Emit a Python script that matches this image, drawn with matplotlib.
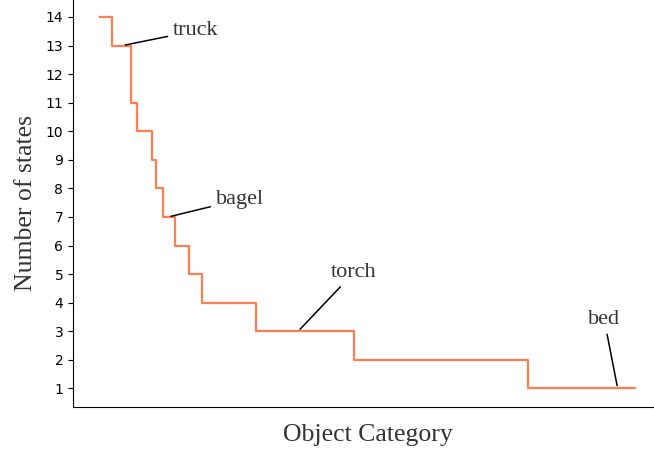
import numpy as np
import matplotlib
matplotlib.use("Agg")
import matplotlib.pyplot as plt

# Number of states per object category, sorted in descending order
state_levels = [14, 13, 11, 10, 9, 8, 7, 6, 5, 4, 3, 2, 1]
categories_per_level = [7, 11, 3, 9, 2, 4, 7, 8, 7, 31, 56, 99, 62]

# Highlighted categories: index along the sorted axis and label placement
highlight_names = ["truck", "bagel", "torch", "bed"]
highlight_index = [13, 39, 113, 295]
label_x = [54.7, 79.8, 144.8, 287.3]
label_y = [13.52, 7.61, 5.06, 3.42]

states = np.repeat(state_levels, categories_per_level)
idx = np.arange(len(states))

serif = ["Liberation Serif", "DejaVu Serif"]
text_color = "#333333"

fig = plt.figure(figsize=(6.54, 4.55), dpi=100)
ax = fig.add_axes([73 / 654, 48 / 455, 589 / 654, 408.6 / 455])

ax.plot(idx, states, drawstyle="steps-post", color="#FF7F50", lw=1.6)

for name, i, tx, ty in zip(highlight_names, highlight_index, label_x, label_y):
    ax.annotate(name, xy=(i, states[i]), xytext=(tx, ty),
                textcoords="data", ha="center", va="center",
                fontsize=16, family=serif, color=text_color,
                arrowprops=dict(arrowstyle="-", color="black", lw=1.1))

ax.set_xlim(-15.25, 320.25)
ax.set_ylim(0.35, 14.65)
ax.set_yticks(range(1, 15))
ax.set_xticks([])
ax.tick_params(axis="y", labelsize=10)
ax.spines["top"].set_visible(False)
ax.spines["right"].set_visible(False)

ax.set_xlabel("Object Category", fontsize=18.5, family=serif, color=text_color,
              labelpad=12)
ax.set_ylabel("Number of states", fontsize=18.5, family=serif, color=text_color,
              labelpad=6)

fig.savefig("out.png", dpi=100)
